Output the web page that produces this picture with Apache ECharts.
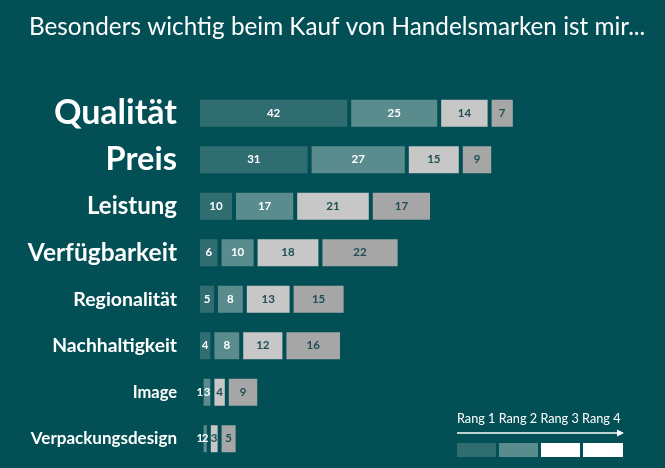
<!DOCTYPE html>
<html>
<head>
<meta charset="utf-8">
<script src="https://cdn.jsdelivr.net/npm/echarts@6/dist/echarts.min.js"></script>
<style>
  html, body { margin: 0; padding: 0; background: #024f55; }
  #main { width: 665px; height: 468px; }
</style>
</head>
<body>
<div id="main"></div>
<script>
// Kategorien (von oben nach unten)
var categories = ['Qualität', 'Preis', 'Leistung', 'Verfügbarkeit', 'Regionalität', 'Nachhaltigkeit', 'Image', 'Verpackungsdesign'];
// Werte je Rang
var rang1 = [42, 31, 10, 6, 5, 4, 1, 1];
var rang2 = [25, 27, 17, 10, 8, 8, 3, 2];
var rang3 = [14, 15, 21, 18, 13, 12, 4, 3];
var rang4 = [7, 9, 17, 22, 15, 16, 9, 5];
var rangNames = ['Rang 1', 'Rang 2', 'Rang 3', 'Rang 4'];

// Schriftgrößen der Kategorie-Beschriftung
var labelSizes = [34, 32.5, 24, 24.5, 19.5, 19.3, 16.5, 17];

var bg = '#024f55';
var fills = ['#2f6d71', '#5a8c8e', '#c7c7c7', '#a6a6a6'];
var textCols = ['#ffffff', '#ffffff', '#1d4f55', '#1d4f55'];
var font = 'Lato';

var myChart = echarts.init(document.getElementById('main'));

function makeSeries(name, values, i) {
    return {
        name: name,
        type: 'bar',
        stack: 'rang',
        barWidth: 31,
        data: values,
        itemStyle: { color: fills[i], borderColor: bg, borderWidth: 2 },
        label: {
            show: true,
            position: 'inside',
            color: textCols[i],
            fontFamily: font,
            fontWeight: 'bold',
            fontSize: 11.5
        },
        silent: true
    };
}

var option = {
    backgroundColor: bg,
    animation: false,
    title: {
        text: 'Besonders wichtig beim Kauf von Handelsmarken ist mir...',
        left: 24,
        top: 10,
        textStyle: { color: '#ffffff', fontFamily: font, fontWeight: 'normal', fontSize: 24.3 }
    },
    grid: { left: 198, width: 396, top: 90, bottom: 6, containLabel: false },
    xAxis: {
        type: 'value', min: 0, max: 110,
        show: false
    },
    yAxis: {
        type: 'category',
        inverse: true,
        data: categories.map(function (c, i) {
            return { value: c, textStyle: { fontSize: labelSizes[i] } };
        }),
        axisLine: { show: false },
        axisTick: { show: false },
        axisLabel: { color: '#ffffff', fontFamily: font, fontWeight: 'bold', margin: 21 }
    },
    series: [
        makeSeries(rangNames[0], rang1, 0),
        makeSeries(rangNames[1], rang2, 1),
        makeSeries(rangNames[2], rang3, 2),
        makeSeries(rangNames[3], rang4, 3)
    ],
    graphic: [
        // Legende unten rechts
        { type: 'text', left: 457, top: 412, style: { text: rangNames.join(' '), fill: '#ffffff', font: '12.7px ' + font } },
        { type: 'line', shape: { x1: 457, y1: 433, x2: 618, y2: 433 }, style: { stroke: '#ffffff', lineWidth: 1.5 } },
        { type: 'polygon', shape: { points: [[617, 429.5], [624, 433], [617, 436.5]] }, style: { fill: '#ffffff' } },
        { type: 'rect', shape: { x: 457, y: 443, width: 39, height: 14 }, style: { fill: fills[0] } },
        { type: 'rect', shape: { x: 499, y: 443, width: 39, height: 14 }, style: { fill: fills[1] } },
        { type: 'rect', shape: { x: 541, y: 443, width: 39, height: 14 }, style: { fill: '#ffffff' } },
        { type: 'rect', shape: { x: 583, y: 443, width: 40, height: 14 }, style: { fill: '#ffffff' } }
    ]
};

myChart.setOption(option);
</script>
</body>
</html>
